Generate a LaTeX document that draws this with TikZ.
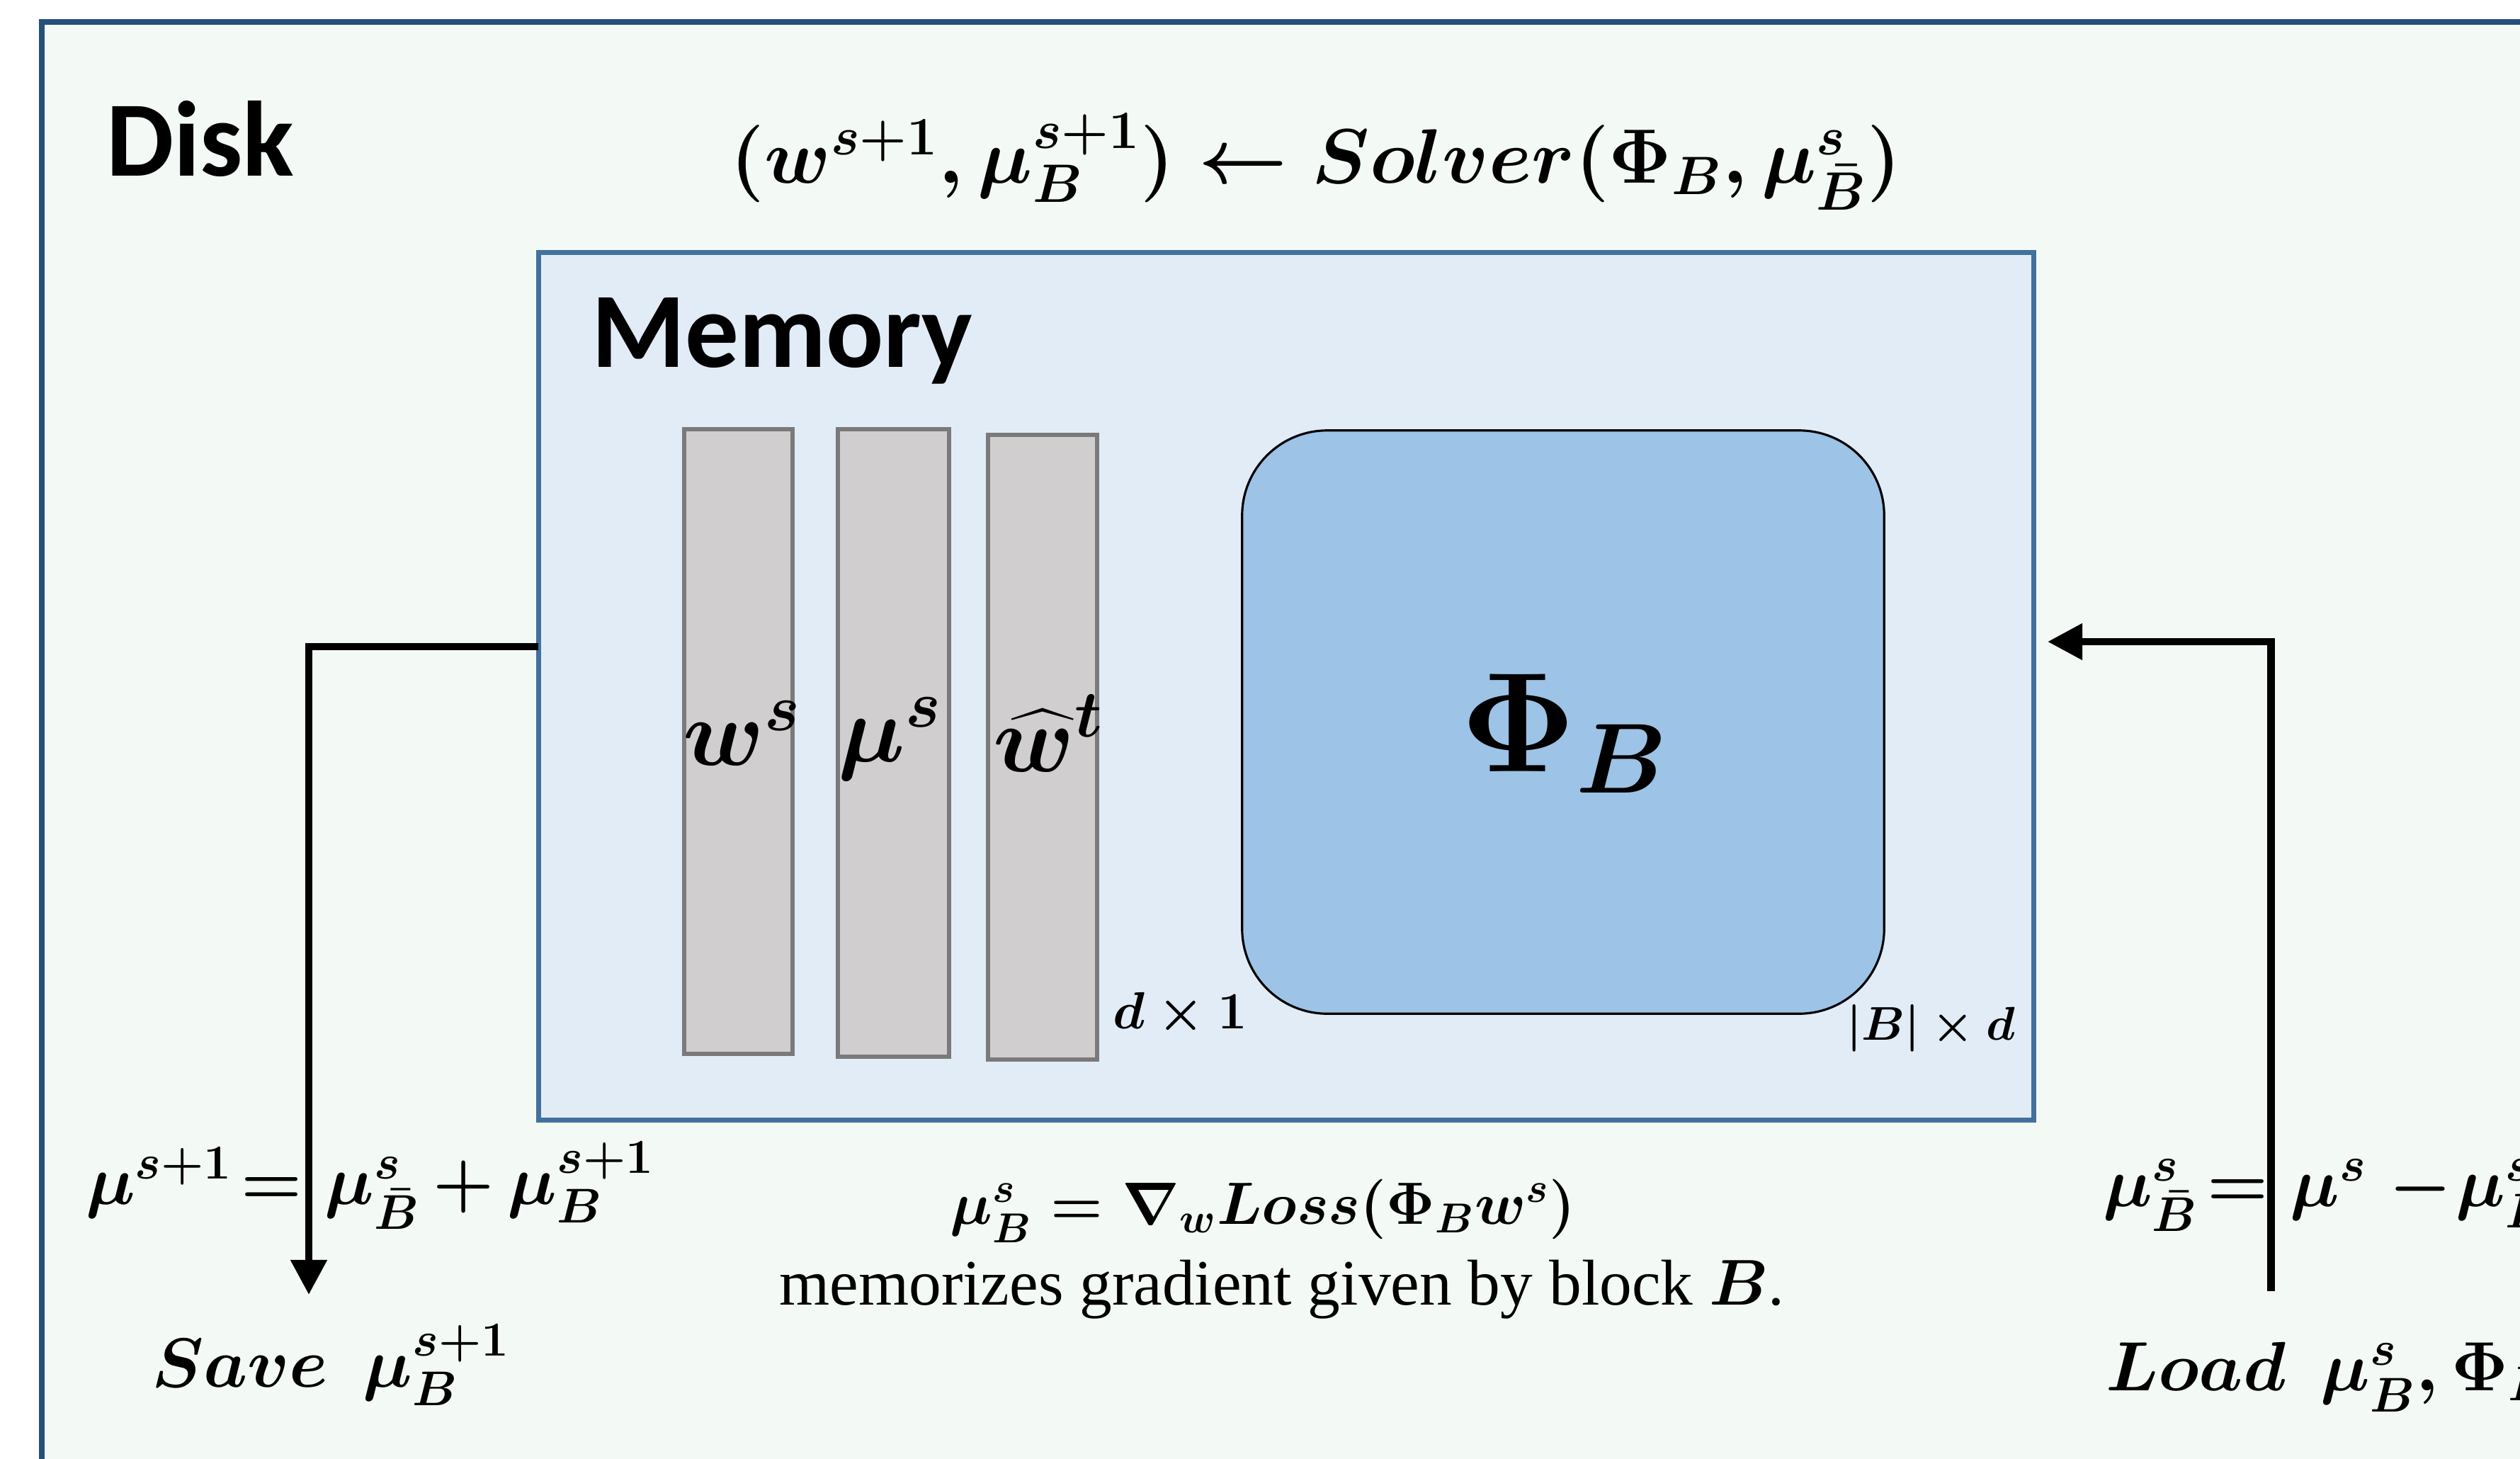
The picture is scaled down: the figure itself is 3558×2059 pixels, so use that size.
\RequirePackage{fix-cm}
\documentclass[tikz,border=0pt]{standalone}
\usepackage{amsmath}
\usepackage[no-math]{fontspec}
\setmainfont{Liberation Serif}
\newfontfamily\calibrifont{Carlito}
\usetikzlibrary{arrows.meta}
\newcommand\fsz[1]{\fontsize{#1}{#1}\selectfont}
\definecolor{diskfill}{RGB}{243,249,245}
\definecolor{diskdraw}{RGB}{38,79,122}
\definecolor{memfill}{RGB}{226,236,247}
\definecolor{memdraw}{RGB}{65,113,156}
\definecolor{barfill}{RGB}{208,206,206}
\definecolor{bardraw}{RGB}{122,122,122}
\definecolor{phifill}{RGB}{157,195,230}
\begin{document}
\begin{tikzpicture}[x=0.01cm,y=-0.01cm,
  box/.style={draw, inner sep=0pt, outer sep=0pt},
  diskbox/.style={box, fill=diskfill, draw=diskdraw, line width=2.3pt, minimum width=36.4cm, minimum height=21.68cm},
  membox/.style={box, fill=memfill, draw=memdraw, line width=2pt, minimum width=21.1cm, minimum height=12.24cm},
  vecbox/.style={box, fill=barfill, draw=bardraw, line width=1.7pt},
  phibox/.style={box, fill=phifill, draw=black, line width=0.9pt, rounded corners=1.2cm, minimum width=9.06cm, minimum height=8.23cm},
  txt/.style={inner sep=0pt, outer sep=0pt},
  heading/.style={txt, font=\calibrifont\bfseries\fsz{43pt}},
  mth/.style={txt, font=\fsz{#1}\boldmath},
  tight/.style={execute at begin node={\thickmuskip=2mu\medmuskip=3mu}},
  conn/.style={line width=3.1pt, -{Triangle[length=14pt,width=14pt]}},
]
\useasboundingbox (0,0) rectangle (3558,2059);
\fill[white] (0,0) rectangle (3558,2059);
\clip (0,0) rectangle (3558,2059);

% containers
\node[diskbox] (disk) at (1880,1116) {};
\node[membox] (mem) at (1816,969) {};

% vectors
\node[vecbox, minimum width=1.53cm, minimum height=8.82cm] (bar1) at (1042.5,1047) {};
\node[vecbox, minimum width=1.57cm, minimum height=8.86cm] (bar2) at (1261.5,1049) {};
\node[vecbox, minimum width=1.54cm, minimum height=8.82cm] (bar3) at (1472,1055) {};
\node[phibox] (phi) at (2207,1019.5) {};

% labels
\node[heading, anchor=base west] (disklbl) at (150,248) {Disk};
\node[heading, anchor=base west] (memlbl) at (835,518) {Memory};
\node[mth=31pt, anchor=base] (solver) at (1858,258)
  {$(w^{s+1},\mu_B^{s+1})\leftarrow Solver(\Phi_B,\mu_{\bar B}^{s})$};

\node[mth=38pt, anchor=base] (lw) at (1048,1080) {$w^{s}$};
\node[mth=38pt, anchor=base] (lmu) at (1257,1075) {$\mu^{s}$};
\node[mth=38pt, anchor=base] (lwh) at (1480,1089) {$\widehat{w}^{t}$};
\node[mth=57pt, anchor=base] (lphi) at (2209,1089) {$\Phi_B$};

\node[mth=21pt, anchor=base west] (dim1) at (1571,1452) {$d\times 1$};
\node[mth=19pt, anchor=base west] (dim2) at (2607,1468) {$|B|\times d$};

\node[mth=24pt, anchor=base] (grad) at (1783,1728) {$\mu_B^{s}=\nabla_w Loss(\Phi_B w^{s})$};
\node[txt, font=\fsz{26pt}, anchor=base] (gradtxt) at (1810,1842)
  {memorizes gradient given by block {\boldmath$B$}.};

\node[mth=28pt, tight, anchor=base west] (upd) at (121,1700) {$\mu^{s+1}=\,\mu_{\bar B}^{s}+\mu_B^{s+1}$};
\node[mth=28pt, anchor=base west] (save) at (214,1958) {$Save\enspace\mu_B^{s+1}$};
\node[mth=28pt, tight, anchor=base west] (rest) at (2969,1703) {$\mu_{\bar B}^{s}=\,\mu^{s}\mkern5mu{-}\mkern1mu\mu_B^{s}$};
\node[mth=28pt, anchor=base west] (load) at (2973,1963) {$Load\enspace\mu_B^{s},\Phi_B$};

% connectors
\coordinate (lh) at (0,913);
\coordinate (saveEnd) at (436,1828);
\coordinate (rh) at (0,906);
\coordinate (loadStart) at (3206,1823);
\draw[conn] (mem.west |- lh) -| (saveEnd);
\draw[conn, shorten >=5.5pt] (loadStart) |- (mem.east |- rh);
\end{tikzpicture}
\end{document}
